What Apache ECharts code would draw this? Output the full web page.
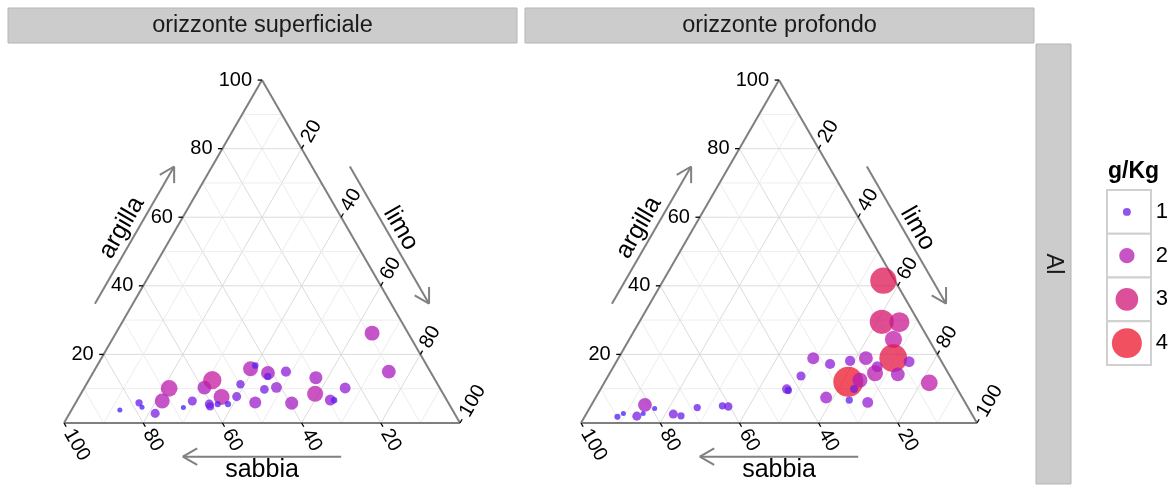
<!DOCTYPE html>
<html><head><meta charset="utf-8">
<script src="https://cdn.jsdelivr.net/npm/echarts@6/dist/echarts.min.js"></script>
<style>html,body{margin:0;padding:0;background:#fff}#c{width:1171px;height:488px}</style>
</head><body><div id="c"></div>
<script>
// ---------------- DATA ----------------
const facetTitles = ['orizzonte superficiale', 'orizzonte profondo'];
const rowStrip = 'Al';
const axisNames = { sabbia: 'sabbia', limo: 'limo', argilla: 'argilla' };
const tickValues = [20, 40, 60, 80, 100];
const legendTitle = 'g/Kg';
const legendBreaks = [1, 2, 3, 4];

// orizzonte superficiale
const supSabbia  = [84.0,78.1,78.0,75.5,72.0,68.4,67.6,64.4,59.4,56.3,60.5,60.7,56.4,58.5,55.9,52.6,49.8,45.0,43.3,48.7,41.2,41.8,44.5,41.2,36.5,39.6,29.8,32.3,29.4,28.5,23.9,9.1,10.5];
const supLimo    = [12.2,16.0,17.4,21.6,21.6,21.5,27.9,29.2,30.3,31.2,33.9,34.5,36.0,36.1,38.7,39.8,38.9,39.2,39.9,45.3,44.2,44.7,45.7,48.5,48.6,54.6,57.0,59.1,63.9,64.9,65.9,64.7,74.6];
const supArgilla = [3.8,5.9,4.6,2.8,6.4,10.1,4.5,6.4,10.3,12.5,5.5,4.8,7.6,5.5,5.5,7.7,11.3,15.8,16.8,6.0,14.6,13.6,9.8,10.4,15.0,5.8,13.2,8.5,6.7,6.6,10.2,26.2,15.0];
const supAl      = [0.6,0.9,0.6,1.15,1.95,2.2,0.6,1.15,1.8,2.4,1.15,1.0,2.1,0.75,0.75,1.15,1.05,1.95,0.8,1.55,1.8,0.9,1.1,1.4,1.3,1.7,1.7,2.1,1.4,0.8,1.4,1.95,1.8];

// orizzonte profondo
const proSabbia  = [89.9,87.9,84.9,81.2,82.9,79.3,75.4,73.7,68.4,61.8,60.4,43.1,42.9,37.6,31.9,28.5,34.4,23.0,26.5,26.1,28.9,23.3,24.6,18.6,17.0,18.5,2.9,9.3,4.9,8.9,11.7,8.2,12.9,6.2];
const proLimo    = [8.3,9.3,13.1,13.5,14.3,16.5,22.0,24.2,27.1,33.2,34.8,47.0,47.6,48.7,49.2,54.3,58.2,58.9,61.5,64.0,64.4,64.2,69.4,62.5,66.6,67.0,55.6,61.2,65.7,66.7,69.4,73.9,72.9,82.1];
const proArgilla = [1.8,2.8,2.0,5.3,2.8,4.2,2.6,2.1,4.5,5.0,4.8,9.9,9.5,13.7,18.9,17.2,7.4,18.1,12.0,9.9,6.7,12.5,6.0,18.9,16.4,14.5,41.5,29.5,29.4,24.4,18.9,17.9,14.2,11.7];
const proAl      = [0.75,0.6,1.15,1.8,0.6,0.6,1.15,0.9,0.9,0.9,1.05,1.2,0.9,1.15,1.55,1.3,1.55,1.3,4.0,1.0,0.9,1.95,1.4,1.8,1.4,2.1,3.5,3.2,2.65,2.25,3.7,1.4,1.8,2.2];

// ---------------- HELPERS ----------------
const FONT = '"Liberation Sans", Arial, Helvetica, sans-serif';
const S3 = Math.sqrt(3) / 2;
function tern(s, l, a) { const t = s + l + a; const L = l / t * 100, A = a / t * 100; return [L + A / 2, A * S3]; }
function add(p, d, k) { return [p[0] + d[0] * k, p[1] + d[1] * k]; }
function buildPoints(S, L, A, V) { return S.map((s, i) => { const xy = tern(s, L[i], A[i]); return [xy[0], xy[1], V[i]]; }); }

const TICK = 1.1, EDGE = '#7f7f7f', ARROW = '#808080', TICKFS = 20, TITLEFS = 25;
function decor(params, api) {
  const ch = [];
  const P = xy => api.coord(xy);
  function seg(a, b, stroke, w) { const p = P(a), q = P(b); ch.push({ type: 'line', silent: true, shape: { x1: p[0], y1: p[1], x2: q[0], y2: q[1] }, style: { stroke: stroke, lineWidth: w, lineCap: 'butt' } }); }
  function txt(xy, text, size, align, va, rot, weight) { const p = P(xy); ch.push({ type: 'text', silent: true, x: p[0], y: p[1], rotation: rot || 0, style: { text: text, fontSize: size, fontFamily: FONT, fill: '#000', align: align, verticalAlign: va, fontWeight: weight || 'normal' } }); }
  function arrow(a, b) {
    seg(a, b, ARROW, 2);
    const dx = b[0] - a[0], dy = b[1] - a[1], len = Math.hypot(dx, dy);
    const ux = -dx / len, uy = -dy / len, ang = Math.PI / 6, L = 4.2;
    [ang, -ang].forEach(t => {
      const rx = ux * Math.cos(t) - uy * Math.sin(t), ry = ux * Math.sin(t) + uy * Math.cos(t);
      seg(b, [b[0] + rx * L, b[1] + ry * L], ARROW, 2);
    });
  }
  // grid lines
  for (let v = 10; v <= 90; v += 10) {
    const col = v % 20 === 0 ? '#dcdcdc' : '#ededed';
    seg(tern(100 - v, 0, v), tern(0, 100 - v, v), col, 1);   // argilla const
    seg(tern(v, 100 - v, 0), tern(v, 0, 100 - v), col, 1);   // sabbia const
    seg(tern(100 - v, v, 0), tern(0, v, 100 - v), col, 1);   // limo const
  }
  // triangle edges
  const BL = tern(100, 0, 0), BR = tern(0, 100, 0), TOP = tern(0, 0, 100);
  seg(BL, BR, EDGE, 2); seg(BL, TOP, EDGE, 2); seg(TOP, BR, EDGE, 2);
  // ticks & labels
  const dA = [-1, 0], dS = [0.5, -S3], dL = [0.5, S3];
  tickValues.forEach(v => {
    const pa = tern(100 - v, 0, v);
    seg(pa, add(pa, dA, TICK), '#000', 1.3);
    txt(add(pa, dA, TICK + 1.4), String(v), TICKFS, 'right', 'middle', 0);
    const ps = tern(v, 100 - v, 0);
    seg(ps, add(ps, dS, TICK), '#000', 1.3);
    txt(add(ps, dS, TICK + 1.1), String(v), TICKFS, 'left', 'middle', -Math.PI / 3);
    const pl = tern(0, v, 100 - v);
    seg(pl, add(pl, dL, TICK), '#000', 1.3);
    txt(add(pl, dL, TICK + 1.1), String(v), TICKFS, 'left', 'middle', Math.PI / 3);
  });
  // axis arrows + titles
  const nL = [-S3, 0.5], nR = [S3, 0.5];
  const eL = t => [TOP[0] * t, TOP[1] * t];
  const eR = t => [TOP[0] + (BR[0] - TOP[0]) * t, TOP[1] + (BR[1] - TOP[1]) * t];
  arrow(add(eL(0.3), nL, 8.3), add(eL(0.7), nL, 8.3));
  txt(add(eL(0.5), nL, 12.0), axisNames.argilla, TITLEFS, 'center', 'middle', Math.PI / 3);
  arrow(add(eR(0.3), nR, 8.3), add(eR(0.7), nR, 8.3));
  txt(add(eR(0.5), nR, 11.6), axisNames.limo, TITLEFS, 'center', 'middle', -Math.PI / 3);
  arrow([70, -8.5], [30, -8.5]);
  txt([50, -12.0], axisNames.sabbia, TITLEFS, 'center', 'middle', 0);
  return { type: 'group', children: ch };
}

// ---------------- LAYOUT ----------------
const TW = 396, TH = TW * S3, BOTTOM = 423;
const panels = [{ left: 64 }, { left: 581 }];
const strips = [{ x: 8, w: 509 }, { x: 525, w: 509 }];
const LEG = { left: 1107, top: 190, width: 44, height: 175 };

const grids = panels.map(p => ({ left: p.left, top: BOTTOM - TH, width: TW, height: TH, containLabel: false }));
grids.push({ left: LEG.left, top: LEG.top, width: LEG.width, height: LEG.height });

const xAxes = panels.map((p, i) => ({ gridIndex: i, type: 'value', min: 0, max: 100, show: false }));
xAxes.push({ gridIndex: 2, type: 'value', min: 0, max: 1, show: false });
const yAxes = panels.map((p, i) => ({ gridIndex: i, type: 'value', min: 0, max: 100 * S3, show: false }));
yAxes.push({ gridIndex: 2, type: 'category', inverse: true, position: 'right', data: legendBreaks.map(String),
  axisLine: { show: false }, axisTick: { show: false }, splitLine: { show: false },
  axisLabel: { margin: 9, fontSize: 22, color: '#000', fontFamily: FONT } });

const colorStops = ['#3a1cff', '#961cd2', '#c31ba5', '#d4146b', '#ee1623'];

const series = [
  { type: 'custom', xAxisIndex: 0, yAxisIndex: 0, data: [[0, 0]], renderItem: decor, silent: true, z: 1, clip: false },
  { type: 'custom', xAxisIndex: 1, yAxisIndex: 1, data: [[0, 0]], renderItem: decor, silent: true, z: 1, clip: false },
  { type: 'scatter', xAxisIndex: 0, yAxisIndex: 0, z: 3, data: buildPoints(supSabbia, supLimo, supArgilla, supAl), itemStyle: { opacity: 0.75 } },
  { type: 'scatter', xAxisIndex: 1, yAxisIndex: 1, z: 3, data: buildPoints(proSabbia, proLimo, proArgilla, proAl), itemStyle: { opacity: 0.75 } },
  { type: 'scatter', xAxisIndex: 2, yAxisIndex: 2, z: 3, data: legendBreaks.map(v => [0.5, String(v), v]), itemStyle: { opacity: 0.75 } }
];

const graphic = [];
strips.forEach((s, i) => {
  graphic.push({ type: 'rect', shape: { x: s.x, y: 8, width: s.w, height: 35 }, style: { fill: '#cccccc', stroke: '#b5b5b5', lineWidth: 1 }, z: 0 });
  graphic.push({ type: 'text', x: s.x + s.w / 2, y: 26, style: { text: facetTitles[i], fontSize: 23.5, fontFamily: FONT, fill: '#1a1a1a', align: 'center', verticalAlign: 'middle' }, z: 1 });
});
graphic.push({ type: 'rect', shape: { x: 1036, y: 44, width: 35, height: 440 }, style: { fill: '#cccccc', stroke: '#b5b5b5', lineWidth: 1 }, z: 0 });
graphic.push({ type: 'text', x: 1053.5, y: 264, rotation: -Math.PI / 2, style: { text: rowStrip, fontSize: 23.5, fontFamily: FONT, fill: '#1a1a1a', align: 'center', verticalAlign: 'middle' }, z: 1 });
graphic.push({ type: 'text', x: LEG.left + 1, y: 172, style: { text: legendTitle, fontSize: 23, fontWeight: 'bold', fontFamily: FONT, fill: '#000', align: 'left', verticalAlign: 'middle' }, z: 1 });
const keyH = LEG.height / legendBreaks.length;
legendBreaks.forEach((b, i) => {
  graphic.push({ type: 'rect', shape: { x: LEG.left, y: LEG.top + i * keyH, width: LEG.width, height: keyH }, style: { fill: '#ffffff', stroke: '#d0d0d0', lineWidth: 2 }, z: -1 });
});

const chart = echarts.init(document.getElementById('c'), null, { renderer: 'canvas' });
chart.setOption({
  animation: false,
  backgroundColor: '#ffffff',
  grid: grids, xAxis: xAxes, yAxis: yAxes,
  visualMap: [{ type: 'continuous', show: false, dimension: 2, min: 0.5, max: 4.1, seriesIndex: [2, 3, 4],
    inRange: { color: colorStops, symbolSize: [4.3, 30.7] } }],
  graphic: graphic,
  series: series
});
</script></body></html>
